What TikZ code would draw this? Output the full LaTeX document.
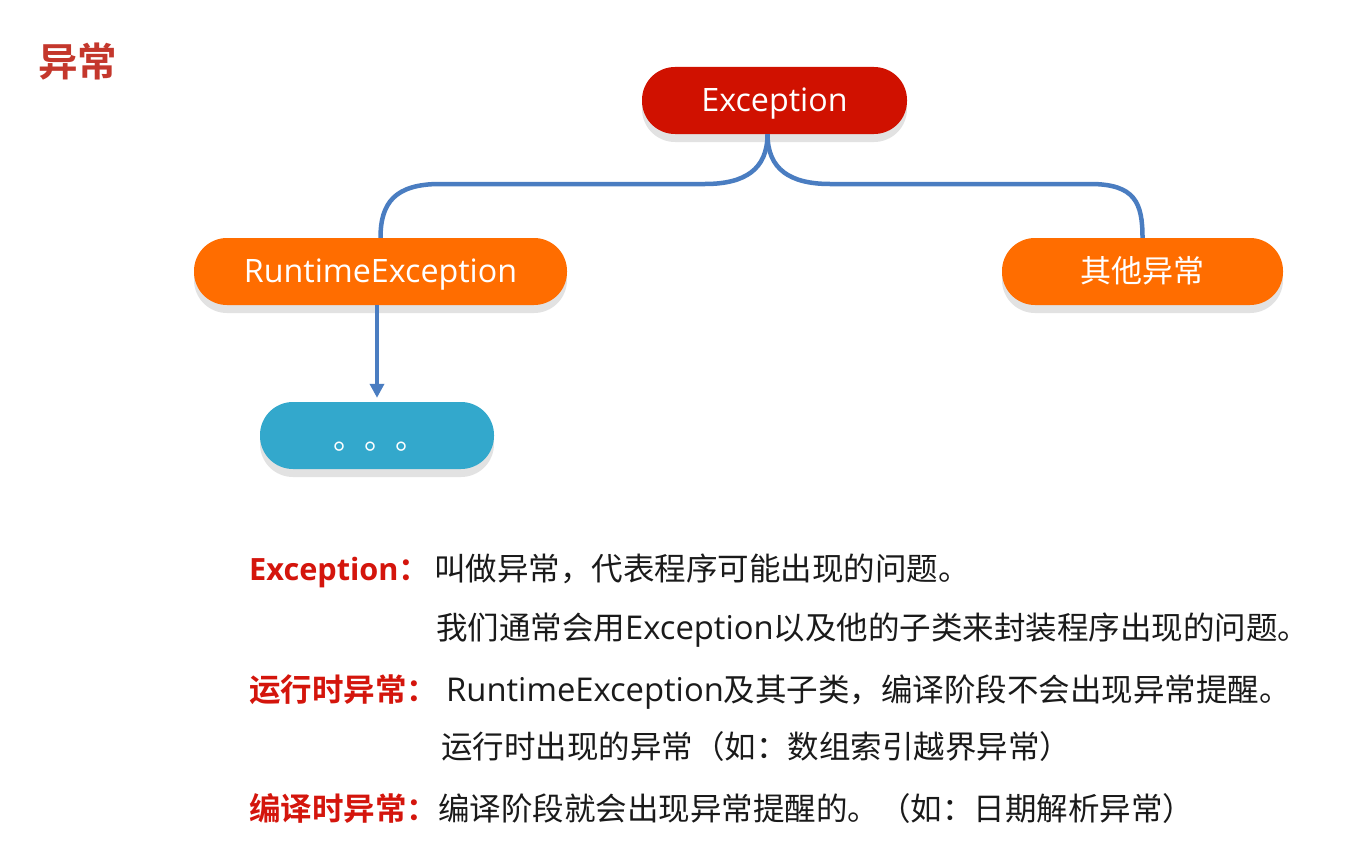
\documentclass[tikz,border=0pt]{standalone}
\usepackage{fontspec}
\setmainfont{Noto Sans CJK SC}[BoldFont={Noto Sans CJK SC Bold}]
\newfontfamily\lat{Open Sans}[Scale=1.04]
\usetikzlibrary{arrows.meta,shadows}
\definecolor{excred}{HTML}{D01100}
\definecolor{rtorange}{HTML}{FF6D00}
\definecolor{dotteal}{HTML}{33A8CC}
\definecolor{lineblue}{HTML}{4A7DC1}
\definecolor{shadowgray}{HTML}{E2E2E2}
\definecolor{labelred}{HTML}{D4150C}
\definecolor{titlered}{HTML}{C4372C}
\definecolor{bodyblack}{HTML}{1A1A1A}
\begin{document}
\begin{tikzpicture}[x=1pt,y=-1pt,
  pill/.style={rectangle, rounded corners=33pt, minimum height=67pt, text=white,
    font=\fontsize{31}{31}\selectfont, inner sep=0pt, text height=22pt, text depth=0pt,
    drop shadow={shadow xshift=0pt, shadow yshift=-8pt, fill=shadowgray, opacity=1}},
  conn/.style={draw=lineblue, line width=4.5pt},
  lbl/.style={anchor=base west, inner sep=0pt, text=labelred, font=\fontsize{31.5}{31.5}\selectfont\bfseries},
  body/.style={anchor=base west, inner sep=0pt, text=bodyblack, font=\fontsize{31.5}{31.5}\selectfont}]
\useasboundingbox[fill=white] (0,0) rectangle (1356,864);

\node[anchor=base west, inner sep=0pt, font=\fontsize{39.5}{39.5}\selectfont\bfseries, text=titlered] (title) at (38,77) {异常};

\node[pill, fill=excred, minimum width=265pt] (exc) at (774.5,100.5) {\lat Exception};
\node[pill, fill=rtorange, minimum width=373pt] (rt) at (380.5,271.5) {\lat RuntimeException};
\node[pill, fill=rtorange, minimum width=281pt] (oth) at (1142.5,271.5) {其他异常};
\node[pill, fill=dotteal, minimum width=234pt] (dots) at (377,435.5) {\hspace{5pt}\raisebox{-3pt}{。。。}};

\coordinate (top) at ([xshift=-7pt]exc.south);
\draw[conn] (top) .. controls +(0,35) and +(40,0) .. (705,184) -- (440,184)
  .. controls +(-45,0) and +(0,-35) .. (rt.north);
\draw[conn] (top) .. controls +(0,35) and +(-40,0) .. (830,184) -- (1090,184)
  .. controls +(45,0) and +(0,-35) .. (oth.north);
\draw[conn, -{Triangle[width=14pt,length=14pt]}, shorten >=4pt] (rt.south -| dots.north) -- (dots.north);

\node[lbl] (l1a) at (249,580) {{\fontsize{29.5}{29.5}\selectfont\lat Exception}：};
\node[body] (l1b) at (434,580) {叫做异常，代表程序可能出现的问题。};
\node[body] (l2) at (436,639) {我们通常会用{\lat Exception}以及他的子类来封装程序出现的问题。};
\node[lbl] (l3a) at (249,701) {运行时异常：};
\node[body] (l3b) at (446,701) {{\lat RuntimeException}及其子类，编译阶段不会出现异常提醒。};
\node[body] (l4) at (441,758) {运行时出现的异常（如：数组索引越界异常）};
\node[lbl] (l5a) at (249,820) {编译时异常：};
\node[body] (l5b) at (438,820) {编译阶段就会出现异常提醒的。（如：日期解析异常）};
\end{tikzpicture}
\end{document}
